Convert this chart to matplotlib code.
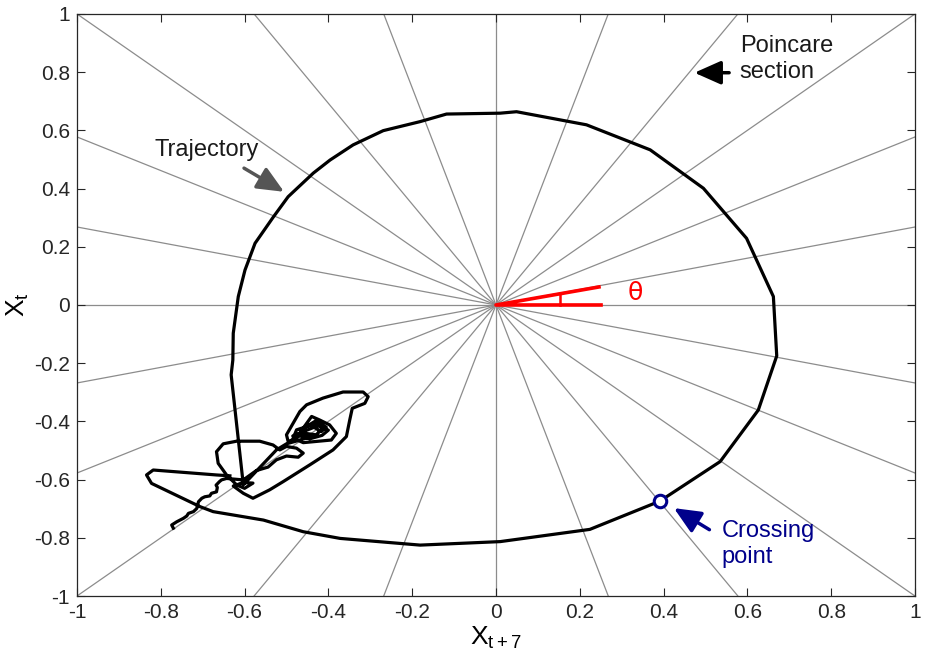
import numpy as np
import matplotlib
matplotlib.use("Agg")
import matplotlib.pyplot as plt

plt.rcParams["font.family"] = ["Liberation Sans", "DejaVu Sans"]
plt.rcParams["mathtext.default"] = "regular"

# Poincare section lines, every 15 degrees through the origin
section_angles = np.arange(0, 180, 15)

# trajectory: jagged tail, tangled cluster, big loop
tail_x = [-0.770, -0.774, -0.762, -0.754, -0.746, -0.738, -0.734, -0.722, -0.714, -0.710,
          -0.702, -0.695, -0.683, -0.679, -0.667, -0.665, -0.668, -0.660, -0.655, -0.643]
tail_y = [-0.767, -0.756, -0.745, -0.739, -0.733, -0.725, -0.716, -0.710, -0.699, -0.676,
          -0.664, -0.659, -0.656, -0.647, -0.642, -0.627, -0.619, -0.607, -0.601, -0.596]

cluster_x = [-0.603, -0.572, -0.544, -0.524, -0.500, -0.472, -0.460, -0.476, -0.500, -0.516,
             -0.532, -0.564, -0.619, -0.651, -0.667, -0.663, -0.643, -0.619, -0.600, -0.580,
             -0.603, -0.627, -0.603, -0.580, -0.540, -0.508, -0.444, -0.389, -0.357, -0.349,
             -0.343, -0.313, -0.305, -0.317, -0.365, -0.413, -0.452, -0.468, -0.484, -0.500,
             -0.496, -0.476, -0.460, -0.440, -0.421, -0.397, -0.381, -0.393, -0.429, -0.460,
             -0.484, -0.476, -0.452, -0.429, -0.413, -0.429, -0.456, -0.468, -0.444, -0.417,
             -0.405, -0.430, -0.455, -0.470, -0.445, -0.415, -0.400, -0.425, -0.460, -0.485,
             -0.440, -0.480, -0.500, -0.524]
cluster_y = [-0.601, -0.569, -0.557, -0.532, -0.519, -0.523, -0.509, -0.492, -0.486, -0.498,
             -0.481, -0.468, -0.468, -0.477, -0.504, -0.544, -0.584, -0.618, -0.630, -0.612,
             -0.610, -0.622, -0.647, -0.664, -0.635, -0.607, -0.549, -0.498, -0.452, -0.395,
             -0.355, -0.338, -0.315, -0.299, -0.299, -0.320, -0.343, -0.366, -0.406, -0.446,
             -0.469, -0.458, -0.423, -0.383, -0.395, -0.412, -0.441, -0.464, -0.469, -0.473,
             -0.458, -0.429, -0.418, -0.406, -0.423, -0.446, -0.441, -0.429, -0.412, -0.435,
             -0.420, -0.398, -0.420, -0.445, -0.460, -0.448, -0.430, -0.415, -0.435, -0.450,
             -0.452, -0.469, -0.477, -0.498]

loop_x = [-0.603, -0.632, -0.628, -0.627, -0.615, -0.599, -0.575, -0.531, -0.496, -0.436,
          -0.396, -0.341, -0.269, -0.181, -0.118, 0.010, 0.049, 0.216, 0.368, 0.495,
          0.598, 0.662, 0.670, 0.626, 0.535, 0.391, 0.224, 0.010, -0.181, -0.372,
          -0.460, -0.555, -0.675, -0.706, -0.822, -0.834, -0.818, -0.667, -0.635]
loop_y = [-0.618, -0.240, -0.189, -0.097, 0.029, 0.120, 0.212, 0.303, 0.372, 0.453,
          0.498, 0.550, 0.599, 0.630, 0.656, 0.659, 0.664, 0.619, 0.533, 0.401,
          0.229, 0.029, -0.175, -0.361, -0.538, -0.674, -0.771, -0.813, -0.825, -0.802,
          -0.779, -0.739, -0.710, -0.693, -0.613, -0.584, -0.567, -0.584, -0.587]

traj_x = tail_x + cluster_x + loop_x
traj_y = tail_y + cluster_y + loop_y

crossing = (0.391, -0.674)
theta_x = [0.255, 0.0, 0.250]
theta_y = [0.0, 0.0, 0.063]
tick_vals = [-1, -0.8, -0.6, -0.4, -0.2, 0, 0.2, 0.4, 0.6, 0.8, 1]
tick_labels = ["-1", "-0.8", "-0.6", "-0.4", "-0.2", "0", "0.2", "0.4", "0.6", "0.8", "1"]

fig = plt.figure(figsize=(9.25, 6.63), dpi=100)
ax = fig.add_axes([0.0832, 0.101, 0.906, 0.878])

for ang in section_angles:
    rad = np.deg2rad(ang)
    ax.axline((0, 0), (np.cos(rad), np.sin(rad)), color="#8c8c8c", linewidth=0.9, zorder=1)

ax.plot(traj_x, traj_y, color="black", linewidth=2.3, zorder=3)

ax.plot(theta_x, theta_y, color="red", linewidth=2.6, zorder=4, solid_capstyle="butt")
ax.plot([0.153, 0.153], [0.0, 0.038], color="red", linewidth=1.8, zorder=4)
ax.text(0.332, 0.04, "θ", color="red", fontsize=18, ha="center", va="center",
        family=["DejaVu Sans"])

ax.plot(*crossing, marker="o", markersize=9, markerfacecolor="white",
        markeredgecolor="#00008b", markeredgewidth=2.2, zorder=5)

ax.annotate("", xy=(-0.500, 0.384), xytext=(-0.607, 0.475),
            arrowprops=dict(arrowstyle="-|>,head_length=0.9,head_width=0.4",
                            color="#555555", linewidth=2.5, mutation_scale=18))
ax.text(-0.814, 0.533, "Trajectory", fontsize=17, ha="left", va="center", color="#1a1a1a")

ax.annotate("", xy=(0.467, 0.798), xytext=(0.563, 0.798),
            arrowprops=dict(arrowstyle="-|>,head_length=0.9,head_width=0.4",
                            color="black", linewidth=2.5, mutation_scale=18))
ax.text(0.582, 0.845, "Poincare\nsection", fontsize=17, ha="left", va="center",
        linespacing=1.25, color="#1a1a1a")

ax.annotate("", xy=(0.419, -0.693), xytext=(0.515, -0.777),
            arrowprops=dict(arrowstyle="-|>,head_length=0.9,head_width=0.4",
                            color="#00008b", linewidth=2.5, mutation_scale=18))
ax.text(0.539, -0.82, "Crossing\npoint", fontsize=17, ha="left", va="center",
        linespacing=1.25, color="#00008b")

ax.set_xlim(-1, 1)
ax.set_ylim(-1, 1)
ax.set_xticks(tick_vals, labels=tick_labels)
ax.set_yticks(tick_vals, labels=tick_labels)
ax.tick_params(direction="in", length=6, width=0.8, labelsize=15, top=True, right=True,
               colors="#262626", pad=5)
for spine in ax.spines.values():
    spine.set_linewidth(0.9)
    spine.set_color("#262626")
ax.set_xlabel("X$_{t+7}$", fontsize=19, labelpad=2)
ax.set_ylabel("X$_{t}$", fontsize=19, labelpad=2)

fig.savefig("out.png", dpi=100)
